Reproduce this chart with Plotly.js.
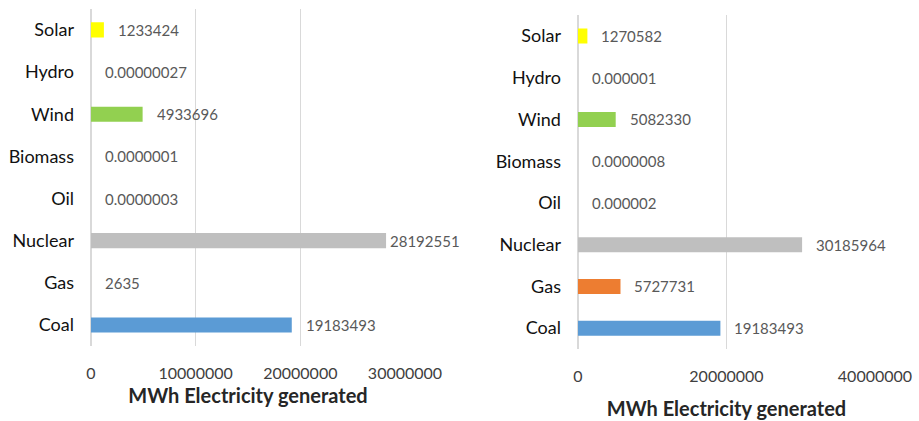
<!DOCTYPE html>
<html>
<head>
<meta charset="utf-8">
<script src="https://cdn.plot.ly/plotly-3.0.1.min.js"></script>
<style>
  html, body { margin: 0; padding: 0; background: #fff; }
  #chart { width: 919px; height: 421px; }
</style>
</head>
<body>
<div id="chart"></div>
<script>
// ---- data ----
const categories = ['Coal', 'Gas', 'Nuclear', 'Oil', 'Biomass', 'Wind', 'Hydro', 'Solar'];
const leftValues  = [19183493, 2635, 28192551, 0.0000003, 0.0000001, 4933696, 0.00000027, 1233424];
const leftLabels  = ['19183493', '2635', '28192551', '0.0000003', '0.0000001', '4933696', '0.00000027', '1233424'];
const rightValues = [19183493, 5727731, 30185964, 0.000002, 0.0000008, 5082330, 0.000001, 1270582];
const rightLabels = ['19183493', '5727731', '30185964', '0.000002', '0.0000008', '5082330', '0.000001', '1270582'];
const barColors   = ['#5B9BD5', '#ED7D31', '#BFBFBF', '#FFC000', '#4472C4', '#92D050', '#264478', '#FFFF00'];
const axisTitle   = 'MWh Electricity generated';

const FONT = 'Lato, "Open Sans", sans-serif';

const traces = [
  { type: 'bar', orientation: 'h', y: categories, x: leftValues,
    marker: { color: barColors }, xaxis: 'x', yaxis: 'y', hoverinfo: 'x+y' },
  { type: 'bar', orientation: 'h', y: categories, x: rightValues,
    marker: { color: barColors }, xaxis: 'x2', yaxis: 'y2', hoverinfo: 'x+y' }
];

function labelAnns(values, labels, xref, yref, rangeMax) {
  return values.map((v, i) => ({
    x: v, y: categories[i], xref: xref, yref: yref,
    text: labels[i], showarrow: false, xanchor: 'left', yanchor: 'middle',
    xshift: (v / rangeMax > 0.9) ? 2 : 12,
    font: { family: FONT, size: 15, color: '#595959' }
  }));
}

const gridCol = '#d9d9d9';
function xax(domain, range, dtick, standoff) {
  return {
    domain: domain, range: range, dtick: dtick, tick0: 0,
    showgrid: true, gridcolor: gridCol, gridwidth: 1.5,
    zeroline: true, zerolinecolor: gridCol, zerolinewidth: 1.5,
    showline: false, ticks: '', tickformat: 'd',
    ticklabelstandoff: 16,
    tickfont: { family: FONT, size: 16, color: '#404040' },
    title: { text: axisTitle, standoff: standoff,
             font: { family: FONT, size: 20, color: '#262626', weight: 700 } },
    fixedrange: true
  };
}
function yax(domain, anchor) {
  return {
    domain: domain, anchor: anchor, type: 'category',
    showgrid: false, zeroline: false, showline: false, ticks: '',
    ticklabelstandoff: 16,
    tickfont: { family: FONT, size: 18, color: '#111' },
    fixedrange: true
  };
}

const layout = {
  width: 919, height: 421,
  margin: { l: 0, r: 0, t: 0, b: 0 },
  paper_bgcolor: '#fff', plot_bgcolor: '#fff',
  showlegend: false, bargap: 0.64,
  xaxis:  Object.assign(xax([0.0990, 0.4407], [0, 3.0001e7], 1e7, 7), { anchor: 'y' }),
  yaxis:  yax([0.178, 0.979], 'x'),
  xaxis2: Object.assign(xax([0.6289, 0.9521], [0, 4.0001e7], 2e7, 17), { anchor: 'y2' }),
  yaxis2: yax([0.171, 0.964], 'x2'),
  annotations: labelAnns(leftValues, leftLabels, 'x', 'y', 3e7)
    .concat(labelAnns(rightValues, rightLabels, 'x2', 'y2', 4e7))
};

Plotly.newPlot('chart', traces, layout, { displayModeBar: false, staticPlot: true });
</script>
</body>
</html>
